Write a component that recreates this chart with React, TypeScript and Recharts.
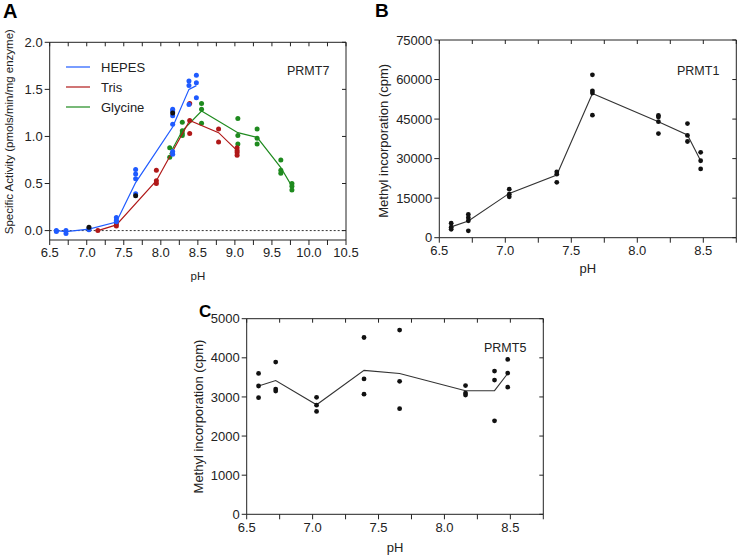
import { ComposedChart, Scatter, XAxis, YAxis, ReferenceLine, Legend } from "recharts";

const FONT = "'Liberation Sans', Arial, Helvetica, sans-serif";
const INK = "#222";

const BLUE = "#1f5bff";
const RED = "#b01818";
const GREEN = "#1e8a1e";

// ---------- A: PRMT7 specific activity, three buffers ----------
const hepesPH = [6.59, 6.72, 7.03, 7.4, 7.66, 8.16, 8.38, 8.48];
const hepesReps = [
  [0.0, -0.01],
  [0.0, -0.03],
  [0.01, 0.02],
  [0.14, 0.11, 0.095],
  [0.65, 0.6, 0.55, 0.39],
  [1.29, 1.27, 1.22, 1.13, 0.84, 0.81],
  [1.59, 1.54, 1.34],
  [1.65, 1.57, 1.41],
];
const hepesMean = [0.0, -0.01, 0.015, 0.09, 0.51, 1.1, 1.5, 1.54];

const trisPH = [7.15, 7.4, 7.94, 8.39, 8.78, 9.03];
const trisReps = [
  [0.0],
  [0.07, 0.05],
  [0.64, 0.53, 0.5],
  [1.35, 1.17, 1.03],
  [1.08, 0.94],
  [0.88, 0.85, 0.83, 0.8],
];
const trisMean = [0.0, 0.06, 0.53, 1.17, 1.04, 0.85];

const glycinePH = [8.12, 8.29, 8.55, 9.04, 9.3, 9.62, 9.77];
const glycineReps = [
  [0.88, 0.78],
  [1.15, 1.06, 1.03, 1.01],
  [1.35, 1.29, 1.14],
  [1.19, 1.01, 0.92],
  [1.08, 0.98, 0.92],
  [0.75, 0.64, 0.61],
  [0.5, 0.47, 0.43],
];
const glycineMean = [0.81, 1.06, 1.27, 1.04, 0.99, 0.67, 0.47];

// a few replicates plotted in black
const otherPH = [7.03, 7.66, 8.16];
const otherVals = [0.035, 0.37, 1.25];

const buffers = [
  { name: "HEPES", color: BLUE },
  { name: "Tris", color: RED },
  { name: "Glycine", color: GREEN },
];

const aXDomain = [6.5, 10.5];
const aYDomain = [-0.1, 2];
const aXTicks = [6.5, 6.75, 7, 7.25, 7.5, 7.75, 8, 8.25, 8.5, 8.75, 9, 9.25, 9.5, 9.75, 10, 10.25, 10.5];
const aYTicks = [0, 0.5, 1, 1.5, 2];

// ---------- B: PRMT1 ----------
const bcPH = [6.59, 6.72, 7.03, 7.39, 7.66, 8.16, 8.38, 8.48];
const prmt1Reps = [
  [5500, 4000, 3200],
  [8800, 7600, 6400, 2600],
  [18400, 16500, 15500],
  [25000, 24100, 21000],
  [61800, 55700, 54900, 46500],
  [46400, 45800, 44000, 39500],
  [43300, 38800, 36500],
  [32400, 29200, 26100],
];
const prmt1Mean = [4100, 6350, 16800, 23800, 54700, 44000, 39000, 29200];
const bYTicks = [0, 15000, 30000, 45000, 60000, 75000];

// ---------- C: PRMT5 ----------
const prmt5Reps = [
  [3600, 3280, 2980],
  [3890, 3200, 3150],
  [2990, 2790, 2630],
  [4520, 3460, 3070],
  [4710, 3400, 2700],
  [3290, 3100, 3050],
  [3660, 3430, 2390],
  [3960, 3610, 3250],
];
const prmt5Mean = [3280, 3420, 2800, 3680, 3600, 3160, 3160, 3600];
const cYTicks = [0, 1000, 2000, 3000, 4000, 5000];

const bcXDomain = [6.5, 8.75];
const bcXTicks = [6.5, 6.75, 7, 7.25, 7.5, 7.75, 8, 8.25, 8.5, 8.75];

const pts = (ph: number[], reps: number[][]) => ph.flatMap((x, i) => reps[i].map((y) => ({ x, y })));
const curve = (ph: number[], ys: number[]) => ph.map((x, i) => ({ x, y: ys[i] }));

const halfLabel = (v: number) => (Math.abs(v * 2 - Math.round(v * 2)) < 1e-6 ? v.toFixed(1) : "");

const dot = (color: string, r = 2.5) => (p: any) =>
  p.cx == null ? <g /> : <circle cx={p.cx} cy={p.cy} r={r} fill={color} />;
const noDot = () => <g />;

const ax = { stroke: INK, strokeWidth: 1 };
const tickText = { fontSize: 13, fill: INK };

// closing top/right edges of the plot box with short inward ticks,
// laid over the chart using the same layout numbers the chart gets
const PlotBox = ({ size, margin, yWidth, xHeight, xDomain, xTicks, yDomain, yTicks }: any) => {
  const left = margin.left + yWidth;
  const top = margin.top;
  const right = size[0] - margin.right;
  const bottom = size[1] - margin.bottom - xHeight;
  const fx = (v: number) => left + ((v - xDomain[0]) / (xDomain[1] - xDomain[0])) * (right - left);
  const fy = (v: number) => bottom - ((v - yDomain[0]) / (yDomain[1] - yDomain[0])) * (bottom - top);
  return (
    <svg width={size[0]} height={size[1]} style={{ position: "absolute", left: 0, top: 0, pointerEvents: "none" }}>
      <polyline points={`${left},${top} ${right},${top} ${right},${bottom}`} fill="none" stroke={INK} strokeWidth={1} />
      {xTicks.map((t: number) => (
        <line key={"x" + t} x1={fx(t)} x2={fx(t)} y1={top} y2={top + 4} stroke={INK} strokeWidth={1} />
      ))}
      {yTicks.map((t: number) => (
        <line key={"y" + t} x1={right} x2={right - 4} y1={fy(t)} y2={fy(t)} stroke={INK} strokeWidth={1} />
      ))}
    </svg>
  );
};

const BufferLegend = () => (
  <div style={{ fontFamily: FONT, fontSize: 13, color: INK }}>
    {buffers.map((b) => (
      <div key={b.name} style={{ display: "flex", alignItems: "center", height: 20 }}>
        <svg width={24} height={20} style={{ marginRight: 11 }}>
          <line x1={0} x2={24} y1={10} y2={10} stroke={b.color} strokeWidth={1.2} />
        </svg>
        <span>{b.name}</span>
      </div>
    ))}
  </div>
);

const aSize = [370, 290];
const aMargin = { top: 42.3, right: 24, bottom: 0, left: 0 };

const PanelA = () => (
  <div style={{ position: "relative", width: aSize[0], height: aSize[1] }}>
    <ComposedChart width={aSize[0]} height={aSize[1]} margin={aMargin}>
      <XAxis dataKey="x" type="number" domain={aXDomain} ticks={aXTicks} interval={0} tickFormatter={halfLabel}
        tickSize={5} tickMargin={3} height={50} axisLine={ax} tickLine={ax} tick={tickText}
        label={{ value: "pH", position: "insideBottom", offset: 10.5, fontSize: 11.5, fill: INK }} />
      <YAxis dataKey="y" type="number" domain={aYDomain} ticks={aYTicks} interval={0}
        tickFormatter={(v: number) => v.toFixed(1)} tickSize={5} tickMargin={2} width={49.7}
        axisLine={ax} tickLine={ax} tick={tickText}
        label={{ value: "Specific Activity (pmols/min/mg enzyme)", angle: -90, position: "center", dx: -16, dy: -9.5, fontSize: 11.5, fill: INK }} />
      <ReferenceLine y={0} stroke="#333" strokeDasharray="2 2" />
      <Scatter data={curve(glycinePH, glycineMean)} shape={noDot} line={{ stroke: GREEN, strokeWidth: 1.2 }} isAnimationActive={false} />
      <Scatter data={pts(glycinePH, glycineReps)} shape={dot(GREEN)} isAnimationActive={false} />
      <Scatter data={curve(trisPH, trisMean)} shape={noDot} line={{ stroke: RED, strokeWidth: 1.2 }} isAnimationActive={false} />
      <Scatter data={pts(trisPH, trisReps)} shape={dot(RED)} isAnimationActive={false} />
      <Scatter data={curve(hepesPH, hepesMean)} shape={noDot} line={{ stroke: BLUE, strokeWidth: 1.2 }} isAnimationActive={false} />
      <Scatter data={pts(hepesPH, hepesReps)} shape={dot(BLUE)} isAnimationActive={false} />
      <Scatter data={curve(otherPH, otherVals)} shape={dot("#111")} isAnimationActive={false} />
      <Legend layout="vertical" align="center" verticalAlign="middle" content={() => <BufferLegend />}
        wrapperStyle={{ left: 66, top: 57, width: 110, height: 60 }} />
    </ComposedChart>
    <PlotBox size={aSize} margin={aMargin} yWidth={49.7} xHeight={50}
      xDomain={aXDomain} xTicks={aXTicks} yDomain={aYDomain} yTicks={aYTicks} />
  </div>
);

const PanelBC = ({ reps, mean, yDomain, yTicks, size, margin, yWidth, xHeight, xLabelOffset, yLabelDx, yLabelDy }: any) => (
  <div style={{ position: "relative", width: size[0], height: size[1] }}>
    <ComposedChart width={size[0]} height={size[1]} margin={margin}>
      <XAxis dataKey="x" type="number" domain={bcXDomain} ticks={bcXTicks} interval={0} tickFormatter={halfLabel}
        tickSize={5} tickMargin={3} height={xHeight} axisLine={ax} tickLine={ax} tick={tickText}
        label={{ value: "pH", position: "insideBottom", offset: xLabelOffset, fontSize: 13, fill: INK }} />
      <YAxis dataKey="y" type="number" domain={yDomain} ticks={yTicks} interval={0}
        tickSize={5} tickMargin={2} width={yWidth} axisLine={ax} tickLine={ax} tick={tickText}
        label={{ value: "Methyl incorporation (cpm)", angle: -90, position: "center", dx: yLabelDx, dy: yLabelDy, fontSize: 13, fill: INK }} />
      <Scatter data={curve(bcPH, mean)} shape={noDot} line={{ stroke: "#333", strokeWidth: 1.1 }} isAnimationActive={false} />
      <Scatter data={pts(bcPH, reps)} shape={dot("#111", 2.4)} isAnimationActive={false} />
    </ComposedChart>
    <PlotBox size={size} margin={margin} yWidth={yWidth} xHeight={xHeight}
      xDomain={bcXDomain} xTicks={bcXTicks} yDomain={yDomain} yTicks={yTicks} />
  </div>
);

export default function App() {
  return (
    <div style={{ position: "absolute", left: 0, top: 0, width: 738, height: 558, background: "#fff", fontFamily: FONT }}>
      <div style={{ position: "absolute", left: 0, top: 0 }}>
        <PanelA />
      </div>
      <div style={{ position: "absolute", left: 370, top: 0 }}>
        <PanelBC reps={prmt1Reps} mean={prmt1Mean} yDomain={[0, 75000]} yTicks={bYTicks} size={[368, 290]}
          margin={{ top: 40, right: 1.7, bottom: 0, left: 0 }} yWidth={69.3} xHeight={52.3}
          xLabelOffset={17.3} yLabelDx={-21.3} yLabelDy={2} />
      </div>
      <div style={{ position: "absolute", left: 180, top: 290 }}>
        <PanelBC reps={prmt5Reps} mean={prmt5Mean} yDomain={[0, 5000]} yTicks={cYTicks} size={[420, 268]}
          margin={{ top: 28.7, right: 56.7, bottom: 0, left: 0 }} yWidth={66.7} xHeight={43.7}
          xLabelOffset={6.3} yLabelDx={-15} yLabelDy={0} />
      </div>
      <svg width={738} height={558} style={{ position: "absolute", left: 0, top: 0, pointerEvents: "none" }}
        fontFamily={FONT} fill={INK}>
        <text x={3} y={17.5} fontSize={20} fontWeight="bold" fill="#000">A</text>
        <text x={375} y={16.7} fontSize={19} fontWeight="bold" fill="#000">B</text>
        <text x={199} y={317.3} fontSize={17} fontWeight="bold" fill="#000">C</text>
        <text x={287} y={75} fontSize={12.5}>PRMT7</text>
        <text x={677} y={75} fontSize={12.5}>PRMT1</text>
        <text x={484} y={351.7} fontSize={12.5}>PRMT5</text>
      </svg>
    </div>
  );
}
